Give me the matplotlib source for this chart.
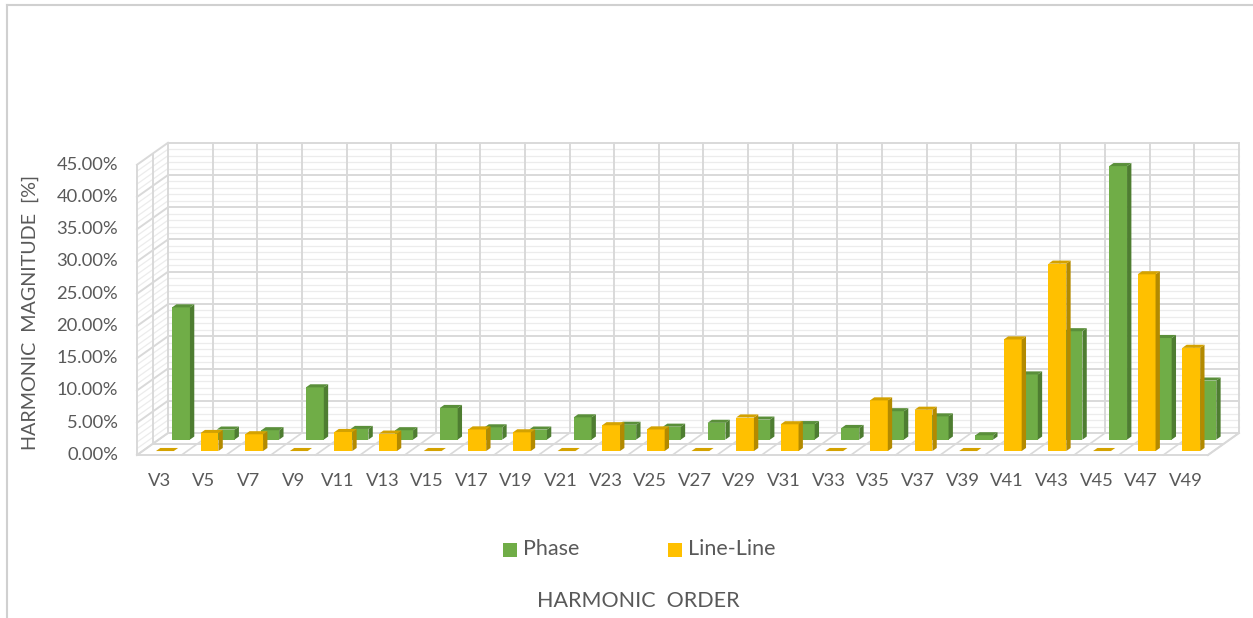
import numpy as np
import matplotlib.pyplot as plt
from matplotlib.patches import Polygon

harmonics = ['V3', 'V5', 'V7', 'V9', 'V11', 'V13', 'V15', 'V17', 'V19', 'V21', 'V23', 'V25',
             'V27', 'V29', 'V31', 'V33', 'V35', 'V37', 'V39', 'V41', 'V43', 'V45', 'V47', 'V49']
phase = [20.5, 1.55, 1.45, 8.1, 1.65, 1.45, 4.9, 1.9, 1.55, 3.45, 2.3, 2.0,
         2.6, 3.1, 2.4, 1.8, 4.4, 3.6, 0.67, 10.1, 16.8, 42.4, 15.75, 9.15]
line_line = [0.0, 2.8, 2.6, 0.0, 2.95, 2.7, 0.0, 3.35, 2.9, 0.0, 4.0, 3.35,
             0.0, 5.2, 4.15, 0.0, 7.85, 6.4, 0.0, 17.3, 29.05, 0.0, 27.4, 16.0]
yticks = np.arange(0, 46, 5)

# oblique projection: depth f in [0, 1] shifts points right and up
DX, DY = 0.695, 3.41
YMAX = 45
XL, XR = -3.570, 24.509
YB, YT = -25.27, 70.54
GRID = '#d9d9d9'
MINOR = '#ececec'
TXT = '#595959'
FONT = ['Lato', 'DejaVu Sans']


def p(x, y, f):
    return (x + f * DX, y + f * DY)


fig = plt.figure(figsize=(12.53, 6.18), dpi=100)
ax = fig.add_axes([0, 0, 1, 1])
ax.set_xlim(XL, XR)
ax.set_ylim(YB, YT)
ax.axis('off')

n = len(harmonics)
x0, x1 = -0.5, n - 0.5

# back wall
ax.add_patch(Polygon([p(x0, 0, 1), p(x1, 0, 1), p(x1, YMAX, 1), p(x0, YMAX, 1)],
                     closed=True, fc='white', ec='none', zorder=1))
for v in np.arange(0, YMAX + 0.5, 1):
    major = v % 5 == 0
    a, b = p(x0, v, 1), p(x1, v, 1)
    ax.plot([a[0], b[0]], [a[1], b[1]], color=GRID if major else MINOR,
            lw=1.4 if major else 0.9, zorder=2 if major else 1.5)
    # same gridline continued on the left side wall
    c, d = p(x0, v, 0), p(x0, v, 1)
    ax.plot([c[0], d[0]], [c[1], d[1]], color=GRID if major else MINOR,
            lw=1.4 if major else 0.9, zorder=2 if major else 1.5)
for xb in np.arange(x0, x1 + 0.5, 1):
    a, b = p(xb, 0, 1), p(xb, YMAX, 1)
    ax.plot([a[0], b[0]], [a[1], b[1]], color=GRID, lw=1.4, zorder=2)
    # floor division between categories
    c, d = p(xb, 0, 0), p(xb, 0, 1)
    ax.plot([c[0], d[0]], [c[1], d[1]], color=GRID, lw=1.2, zorder=2)

# side wall verticals
for f in (0, 0.5):
    a, b = p(x0, 0, f), p(x0, YMAX, f)
    ax.plot([a[0], b[0]], [a[1], b[1]], color=GRID, lw=1.4, zorder=2)

# floor edges
for f in (0, 0.5):
    a, b = p(x0, 0, f), p(x1, 0, f)
    ax.plot([a[0], b[0]], [a[1], b[1]], color=GRID, lw=1.4, zorder=2)
a, b = p(x1, 0, 0), p(x1, 0, 1)
ax.plot([a[0], b[0]], [a[1], b[1]], color=GRID, lw=1.4, zorder=2)


def column(c, v, f0, f1, front, side, top, z):
    hw = 0.2
    if v > 0:
        ax.add_patch(Polygon([p(c - hw, 0, f0), p(c + hw, 0, f0), p(c + hw, v, f0), p(c - hw, v, f0)],
                             closed=True, fc=front, ec='none', zorder=z))
        ax.add_patch(Polygon([p(c + hw, 0, f0), p(c + hw, 0, f1), p(c + hw, v, f1), p(c + hw, v, f0)],
                             closed=True, fc=side, ec='none', zorder=z))
    ax.add_patch(Polygon([p(c - hw, v, f0), p(c + hw, v, f0), p(c + hw, v, f1), p(c - hw, v, f1)],
                         closed=True, fc=top, ec='none', zorder=z))


# back row (Phase), then front row (Line-Line)
for i, v in enumerate(phase):
    column(i, v, 0.70, 0.84, '#70ad47', '#4e7d31', '#5a8f3a', 3)
for i, v in enumerate(line_line):
    column(i, v, 0.18, 0.32, '#ffc000', '#b38a00', '#d4a200', 4)

# value axis labels along the front edge
px_x = (XR - XL) / 1253
px_y = (YT - YB) / 618
for v in yticks:
    ax.text(XL + 118 * px_x, v, f'{v:.2f}%', ha='right', va='center',
            fontsize=13.2, color=TXT, family=FONT)
for i, h in enumerate(harmonics):
    ax.text(i, YT - 481 * px_y, h, ha='center', va='center',
            fontsize=13.2, color=TXT, family=FONT)

# axis titles
fig.text(30 / 1253, 1 - 312 / 618, 'HARMONIC  MAGNITUDE  [%]', rotation=90, ha='center',
         va='center', fontsize=14.2, color=TXT, family=FONT)
fig.text(638 / 1253, 1 - 601 / 618, 'HARMONIC  ORDER', ha='center', va='center',
         fontsize=15.5, color=TXT, family=FONT)

# legend
for lx, label, col in ((503, 'Phase', '#70ad47'), (668, 'Line-Line', '#ffc000')):
    fig.patches.append(plt.Rectangle((lx / 1253, 1 - 557 / 618), 14 / 1253, 14 / 618,
                                     transform=fig.transFigure, fc=col, ec='none'))
    fig.text((lx + 20) / 1253, 1 - 549 / 618, label, ha='left', va='center',
             fontsize=15.5, color=TXT, family=FONT)

# chart area border
fig.add_artist(plt.Line2D([7 / 1253, 1], [1 - 5 / 618, 1 - 5 / 618], color='#d0d0d0', lw=1.5,
                          transform=fig.transFigure))
fig.add_artist(plt.Line2D([7 / 1253, 7 / 1253], [0, 1 - 5 / 618], color='#d0d0d0', lw=1.5,
                          transform=fig.transFigure))

fig.savefig('out.png', dpi=100)
